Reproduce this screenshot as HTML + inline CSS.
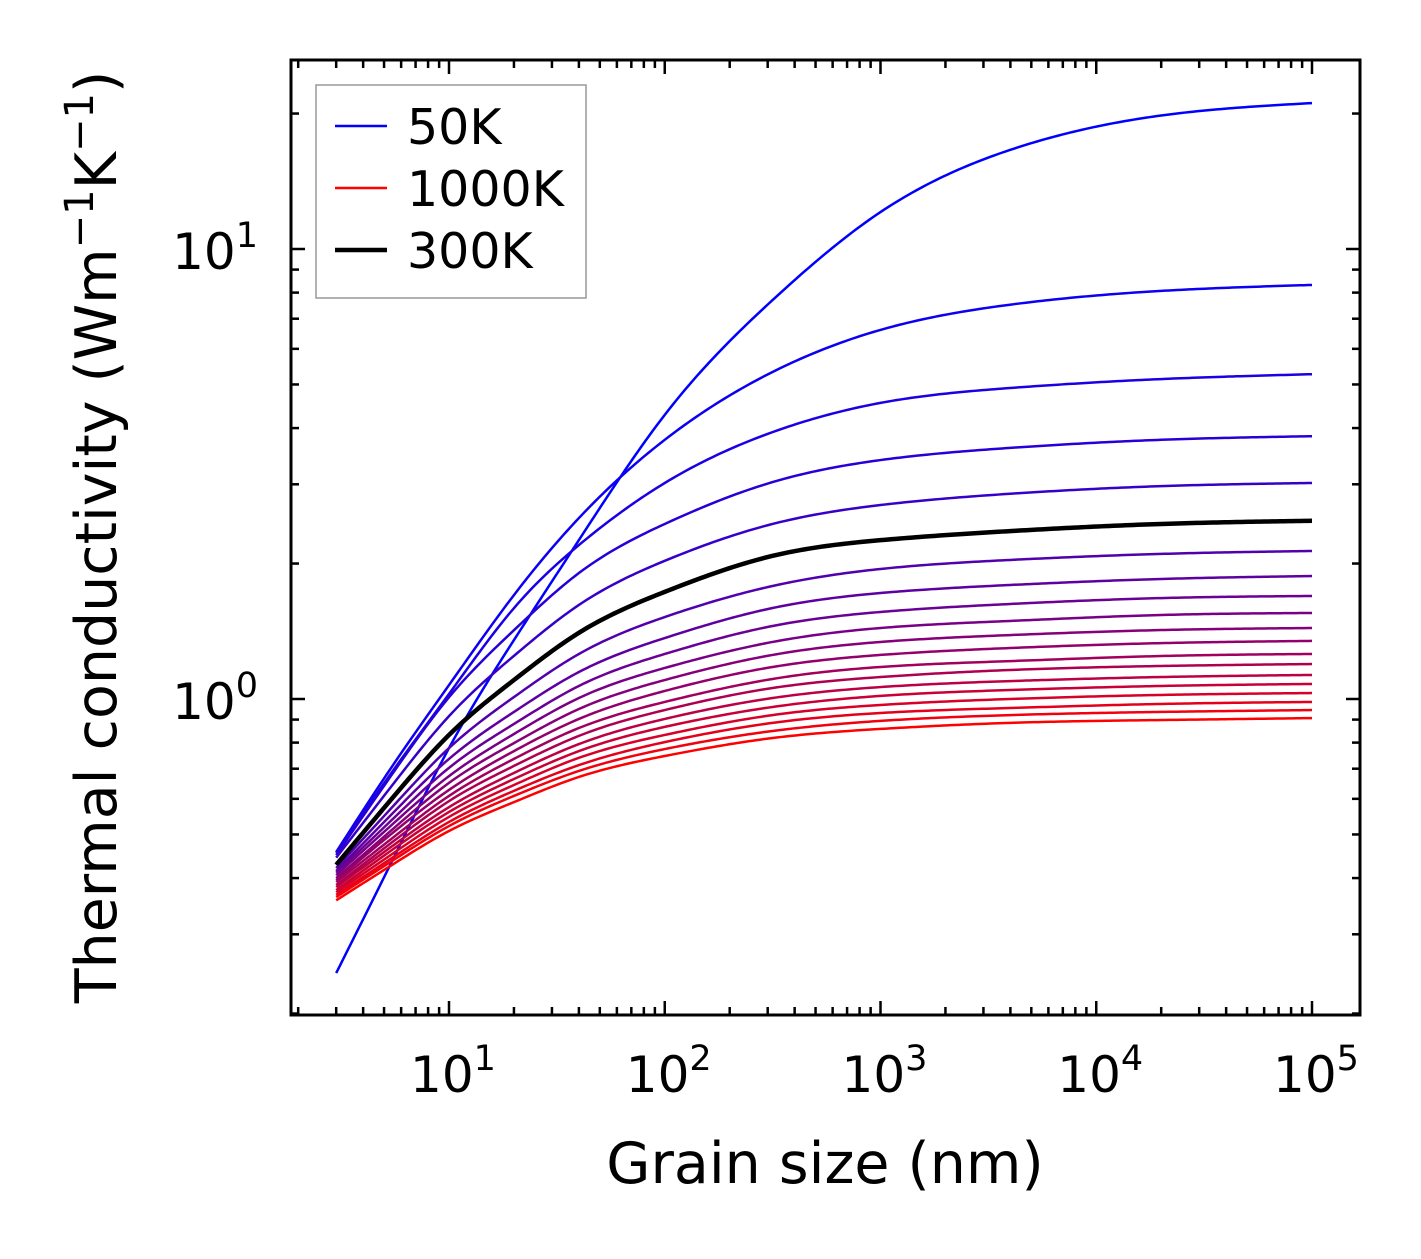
<!DOCTYPE html>
<html><head><meta charset="utf-8"><style>
html,body{margin:0;padding:0;background:#fff;}
svg text{font-family:"DejaVu Sans","Liberation Sans",sans-serif;fill:#000;}
</style></head><body>
<svg id="chart" width="1421" height="1254" viewBox="0 0 1421 1254" xmlns="http://www.w3.org/2000/svg">
<rect x="0" y="0" width="1421" height="1254" fill="#fff"/>
<g id="curves"></g>
<g id="axes"></g>
<rect x="291" y="60" width="1069" height="955" fill="none" stroke="#000" stroke-width="3"/>
<text x="825" y="1183" font-size="57" text-anchor="middle">Grain size (nm)</text>
<text transform="translate(116,537) rotate(-90)" font-size="57" text-anchor="middle">Thermal conductivity (Wm<tspan font-size="40" dy="-23">−1</tspan><tspan dy="23">K</tspan><tspan font-size="40" dy="-23">−1</tspan><tspan dy="23">)</tspan></text>
<g>
<rect x="316" y="85" width="270" height="213" fill="#fff" stroke="#999" stroke-width="1.5"/>
<g><line x1="335" y1="126" x2="387" y2="126" stroke="#0000ff" stroke-width="2.5"/><text x="407" y="144" font-size="49">50K</text></g>
<g><line x1="335" y1="188" x2="387" y2="188" stroke="#ff0000" stroke-width="2.5"/><text x="407" y="206" font-size="49">1000K</text></g>
<g><line x1="335" y1="250" x2="387" y2="250" stroke="#000" stroke-width="4.5"/><text x="407" y="268" font-size="49">300K</text></g>
</g>
</svg>
<script>
const grainSizes = [3, 5.62, 10, 20, 40, 100, 316, 1000, 3981, 20000, 100000];
const temperatures = [50,100,150,200,250,300,350,400,450,500,550,600,650,700,750,800,850,900,950,1000];
const k50   = [0.246,0.450,0.778,1.352,2.255,4.28,7.70,12.08,16.6,19.8,21.1];
const k100  = [0.457,0.724,1.074,1.702,2.524,3.767,5.33,6.61,7.52,8.07,8.32];
const k150  = [0.455,0.703,1.026,1.592,2.198,3.020,3.918,4.55,4.91,5.14,5.27];
const k200  = [0.450,0.695,1.009,1.422,1.905,2.449,3.034,3.396,3.614,3.767,3.837];
const k250  = [0.444,0.655,0.916,1.247,1.618,2.028,2.449,2.698,2.858,2.972,3.020];
const k300  = [0.428,0.612,0.832,1.102,1.403,1.730,2.080,2.254,2.361,2.449,2.489];
const k350  = [0.421,0.584,0.778,1.010,1.259,1.521,1.783,1.945,2.037,2.101,2.133];
const k400  = [0.415,0.564,0.736,0.936,1.148,1.366,1.593,1.720,1.792,1.848,1.876];
const k450  = [0.411,0.547,0.703,0.880,1.069,1.259,1.453,1.561,1.626,1.676,1.694];
const k500  = [0.406,0.533,0.674,0.836,1.005,1.172,1.339,1.438,1.491,1.537,1.553];
const k550  = [0.400,0.519,0.651,0.798,0.950,1.102,1.253,1.339,1.387,1.423,1.438];
const k600  = [0.396,0.509,0.628,0.766,0.903,1.042,1.178,1.253,1.298,1.331,1.346];
const k650  = [0.392,0.496,0.609,0.736,0.862,0.985,1.108,1.178,1.214,1.246,1.259];
const k700  = [0.386,0.486,0.593,0.710,0.828,0.945,1.058,1.119,1.160,1.184,1.196];
const k750  = [0.382,0.476,0.575,0.685,0.794,0.903,1.005,1.063,1.096,1.119,1.131];
const k800  = [0.376,0.467,0.561,0.664,0.766,0.867,0.960,1.016,1.047,1.069,1.080];
const k850  = [0.372,0.457,0.547,0.644,0.740,0.832,0.921,0.970,1.000,1.021,1.031];
const k900  = [0.367,0.448,0.533,0.625,0.713,0.802,0.885,0.931,0.955,0.975,0.985];
const k950  = [0.363,0.441,0.522,0.609,0.692,0.774,0.849,0.894,0.921,0.936,0.945];
const k1000 = [0.357,0.432,0.509,0.590,0.671,0.747,0.819,0.858,0.885,0.898,0.907];
const seriesList = [k50,k100,k150,k200,k250,k300,k350,k400,k450,k500,k550,k600,k650,k700,k750,k800,k850,k900,k950,k1000];
const xTickValues = [10,100,1000,10000,100000];
const xTickExps = ["1","2","3","4","5"];
const yTickValues = [1,10];
const yTickExps = ["0","1"];

const NS = "http://www.w3.org/2000/svg";
const X0 = 291, X1 = 1360, Y0 = 60, Y1 = 1015;
const xLogMin = 1 - (449 - X0) / 215.75, xLogMax = 1 + (X1 - 449) / 215.75;
const yLogMin = -(Y1 - 699) / 450, yLogMax = (699 - Y0) / 450;
function xScale(v){ return X0 + (Math.log10(v) - xLogMin) / (xLogMax - xLogMin) * (X1 - X0); }
function yScale(v){ return Y1 - (Math.log10(v) - yLogMin) / (yLogMax - yLogMin) * (Y1 - Y0); }

function splinePath(xs, ys){
  const n = xs.length, h = [], al = new Array(n).fill(0), l = new Array(n).fill(1), mu = new Array(n).fill(0), z = new Array(n).fill(0);
  const c = new Array(n).fill(0), b = new Array(n).fill(0), d = new Array(n).fill(0);
  for (let i=0;i<n-1;i++) h.push(xs[i+1]-xs[i]);
  for (let i=1;i<n-1;i++) al[i] = 3/h[i]*(ys[i+1]-ys[i]) - 3/h[i-1]*(ys[i]-ys[i-1]);
  for (let i=1;i<n-1;i++){
    l[i]=2*(xs[i+1]-xs[i-1]) - h[i-1]*mu[i-1];
    mu[i]=h[i]/l[i];
    z[i]=(al[i]-h[i-1]*z[i-1])/l[i];
  }
  c[n-1]=0;
  for (let j=n-2;j>=0;j--){
    c[j] = (j===0) ? 0 : z[j]-mu[j]*c[j+1];
  }
  for (let j=0;j<n-1;j++){
    b[j]=(ys[j+1]-ys[j])/h[j] - h[j]*(c[j+1]+2*c[j])/3;
    d[j]=(c[j+1]-c[j])/(3*h[j]);
  }
  let p = "M"+xs[0].toFixed(2)+","+ys[0].toFixed(2);
  for (let i=0;i<n-1;i++){
    const steps = Math.max(4, Math.ceil(h[i]/4));
    for (let s=1;s<=steps;s++){
      const t = h[i]*s/steps;
      const y = ys[i]+b[i]*t+c[i]*t*t+d[i]*t*t*t;
      p += " L"+(xs[i]+t).toFixed(2)+","+y.toFixed(2);
    }
  }
  return p;
}

const curves = document.getElementById("curves");
const pxs = grainSizes.map(xScale);
function addCurve(vals, color, width, name){
  const path = document.createElementNS(NS,"path");
  path.setAttribute("d", splinePath(pxs, vals.map(yScale)));
  path.setAttribute("fill","none");
  path.setAttribute("stroke",color);
  path.setAttribute("stroke-width",width);
  path.setAttribute("stroke-linejoin","round");
  
  
  curves.appendChild(path);
}
seriesList.forEach((vals,i)=>{
  const t=(temperatures[i]-50)/950;
  const col="rgb("+Math.round(255*t)+",0,"+Math.round(255*(1-t))+")";
  addCurve(vals,col,2.5,"curve-"+temperatures[i]+"k");
});
addCurve(k300,"#000",4.5,"curve-300k-highlight");

const axes = document.getElementById("axes");
function line(x1,y1,x2,y2,name){
  const l=document.createElementNS(NS,"line");
  l.setAttribute("x1",x1);l.setAttribute("y1",y1);l.setAttribute("x2",x2);l.setAttribute("y2",y2);
  l.setAttribute("stroke","#000");l.setAttribute("stroke-width","2.5");
  
  
  axes.appendChild(l);
}
function label(x,y,exp,anchor,name){
  const t=document.createElementNS(NS,"text");
  t.setAttribute("x",x);t.setAttribute("y",y);t.setAttribute("font-size","50");t.setAttribute("text-anchor",anchor);
  t.innerHTML='10<tspan font-size="35" dy="-22">'+exp+'</tspan>';
  
  
  axes.appendChild(t);
}
for (let e=0;e<=5;e++){
  for (let k=1;k<10;k++){
    const v=k*Math.pow(10,e), x=xScale(v);
    if (x<X0+1||x>X1-1) continue;
    const len = k===1?14:8;
    line(x,Y1,x,Y1-len,"x-tick");
    line(x,Y0,x,Y0+len,"x-tick-top");
  }
}
xTickValues.forEach((v,i)=>label(xScale(v)+4,1092,xTickExps[i],"middle","x-tick-label"));
for (let e=-1;e<=1;e++){
  for (let k=1;k<10;k++){
    const v=k*Math.pow(10,e), y=yScale(v);
    if (y<Y0+1||y>Y1-1) continue;
    const len = k===1?14:8;
    line(X0,y,X0+len,y,"y-tick");
    line(X1,y,X1-len,y,"y-tick-right");
  }
}
yTickValues.forEach((v,i)=>label(258,yScale(v)+20,yTickExps[i],"end","y-tick-label"));
</script>
</body></html>
